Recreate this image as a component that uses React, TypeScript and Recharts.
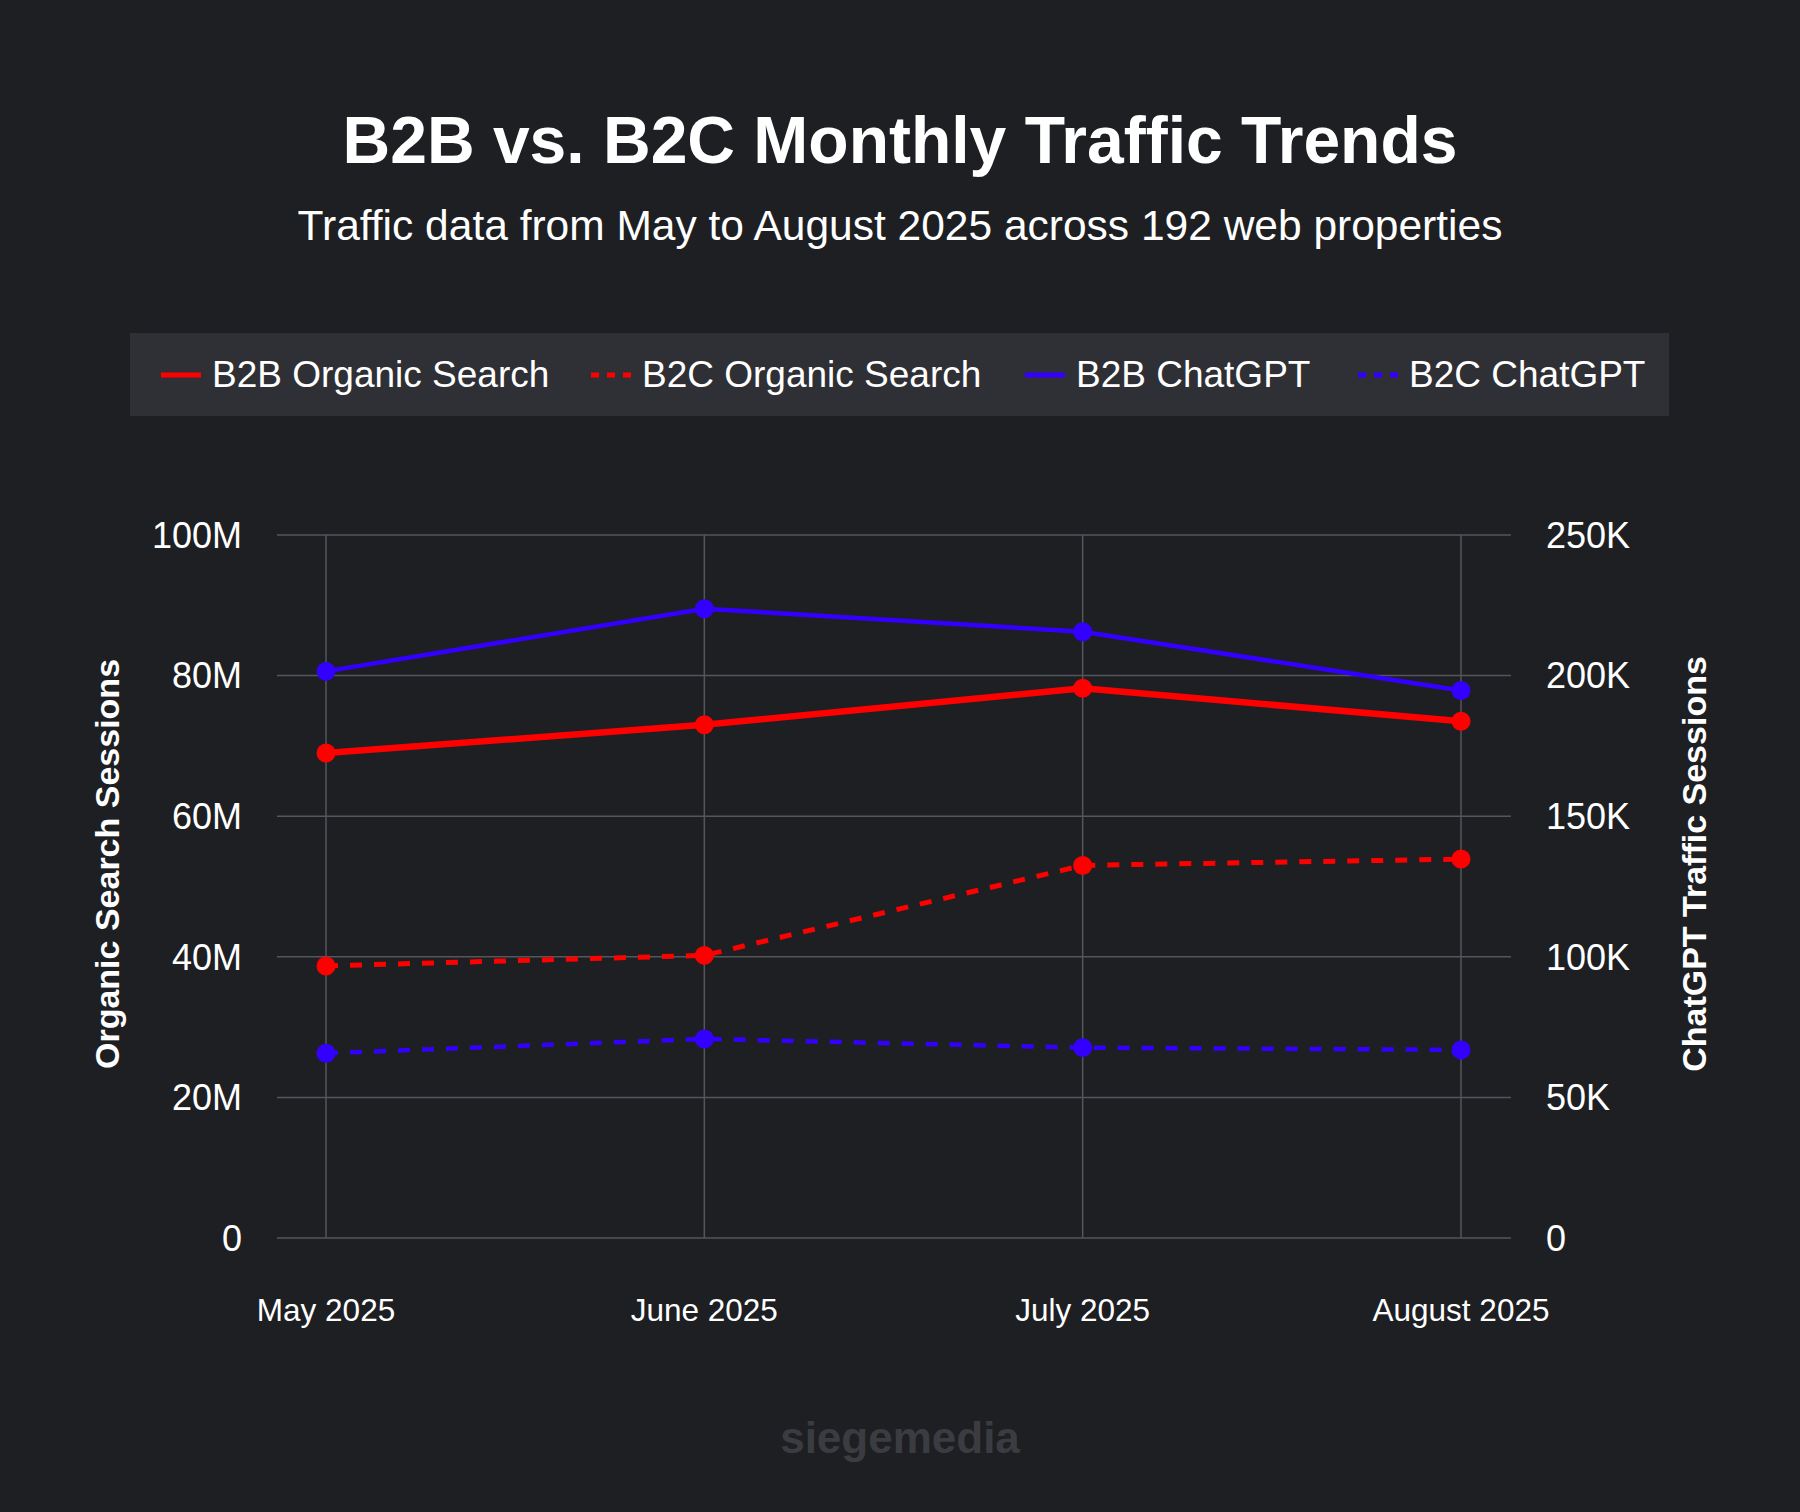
import React from 'react';
import { LineChart, Line, XAxis, YAxis, CartesianGrid } from 'recharts';

const months = ['May 2025', 'June 2025', 'July 2025', 'August 2025'];
// organic sessions, millions
const b2bOrganic = [69.0, 73.0, 78.2, 73.5];
const b2cOrganic = [38.7, 40.2, 53.0, 53.9];
// chatgpt sessions, thousands
const b2bChatgpt = [201.5, 223.8, 215.6, 194.7];
const b2cChatgpt = [65.7, 70.8, 67.7, 66.9];

const leftTicks = [0, 20, 40, 60, 80, 100];
const rightTicks = [0, 50, 100, 150, 200, 250];

const RED = '#ff0000';
const BLUE = '#3300ff';
const BG = '#1e1f23';
const FONT = '"Liberation Sans", Arial, sans-serif';

const data = months.map((m, i) => ({
  month: m,
  b2bOrganic: b2bOrganic[i],
  b2cOrganic: b2cOrganic[i],
  b2bChatgpt: b2bChatgpt[i],
  b2cChatgpt: b2cChatgpt[i],
}));

const legendItems = [
  { label: 'B2B Organic Search', color: RED, dashed: false, width: 5, left: 161 },
  { label: 'B2C Organic Search', color: RED, dashed: true, width: 5, left: 591 },
  { label: 'B2B ChatGPT', color: BLUE, dashed: false, width: 5, left: 1025 },
  { label: 'B2C ChatGPT', color: BLUE, dashed: true, width: 5, left: 1358 },
];

const tickStyle = { fill: '#ffffff', fontSize: 36, fontFamily: FONT };

export default function App() {
  return (
    <div
      style={{
        position: 'absolute',
        left: 0,
        top: 0,
        width: 1800,
        height: 1512,
        background: BG,
        fontFamily: FONT,
        color: '#fff',
        overflow: 'hidden',
      }}
    >
      <div style={{ position: 'absolute', top: 107, width: 1800, textAlign: 'center', fontSize: 66, fontWeight: 700, lineHeight: 1 }}>
        B2B vs. B2C Monthly Traffic Trends
      </div>
      <div style={{ position: 'absolute', top: 205, width: 1800, textAlign: 'center', fontSize: 42.5, lineHeight: 1 }}>
        Traffic data from May to August 2025 across 192 web properties
      </div>

      {/* legend */}
      <div style={{ position: 'absolute', left: 130, top: 333, width: 1539, height: 83, background: '#2f3035' }}>
        {legendItems.map((it) => (
          <div
            key={it.label}
            style={{ position: 'absolute', left: it.left - 130, top: 0, height: 83, display: 'flex', alignItems: 'center' }}
          >
            <svg width={40} height={10} style={{ marginRight: 11 }}>
              <line
                x1={0}
                y1={5}
                x2={40}
                y2={5}
                stroke={it.color}
                strokeWidth={it.width}
                strokeDasharray={it.dashed ? '8 8' : undefined}
              />
            </svg>
            <span style={{ fontSize: 37, lineHeight: 1, whiteSpace: 'nowrap' }}>{it.label}</span>
          </div>
        ))}
      </div>

      <LineChart
        width={1800}
        height={1512}
        data={data}
        margin={{ top: 535, right: 169, bottom: 194, left: 157 }}
        style={{ position: 'absolute', left: 0, top: 0 }}
      >
        <CartesianGrid stroke="#55565b" strokeWidth={1.5} syncWithTicks />
        <XAxis
          dataKey="month"
          axisLine={false}
          tickLine={false}
          height={80}
          padding={{ left: 49, right: 50 }}
          tickMargin={55}
          tick={{ fill: '#ffffff', fontSize: 31.5, fontFamily: FONT }}
        />
        <YAxis
          orientation="left"
          width={120}
          domain={[0, 100]}
          ticks={leftTicks}
          axisLine={false}
          tickLine={false}
          tickMargin={29}
          tickFormatter={(v: number) => (v === 0 ? '0' : `${v}M`)}
          tick={tickStyle}
        />
        <YAxis
          yAxisId="right"
          orientation="right"
          width={120}
          domain={[0, 250]}
          ticks={rightTicks}
          axisLine={false}
          tickLine={false}
          tickMargin={29}
          tickFormatter={(v: number) => (v === 0 ? '0' : `${v}K`)}
          tick={{ ...tickStyle, textAnchor: 'start' }}
        />
        <Line
          yAxisId="right"
          dataKey="b2cChatgpt"
          stroke={BLUE}
          strokeWidth={4.5}
          strokeDasharray="12 12"
          dot={{ r: 9.5, fill: BLUE, strokeWidth: 0 }}
          isAnimationActive={false}
        />
        <Line
          dataKey="b2cOrganic"
          stroke={RED}
          strokeWidth={5}
          strokeDasharray="12 12"
          dot={{ r: 9.5, fill: RED, strokeWidth: 0 }}
          isAnimationActive={false}
        />
        <Line
          yAxisId="right"
          dataKey="b2bChatgpt"
          stroke={BLUE}
          strokeWidth={4.5}
          dot={{ r: 9.5, fill: BLUE, strokeWidth: 0 }}
          isAnimationActive={false}
        />
        <Line
          dataKey="b2bOrganic"
          stroke={RED}
          strokeWidth={6.5}
          dot={{ r: 9.5, fill: RED, strokeWidth: 0 }}
          isAnimationActive={false}
        />
      </LineChart>

      <div
        style={{
          position: 'absolute',
          left: 107,
          top: 864,
          transform: 'translate(-50%, -50%) rotate(-90deg)',
          fontSize: 34,
          fontWeight: 700,
          whiteSpace: 'nowrap',
          lineHeight: 1,
        }}
      >
        Organic Search Sessions
      </div>
      <div
        style={{
          position: 'absolute',
          left: 1694,
          top: 864,
          transform: 'translate(-50%, -50%) rotate(-90deg)',
          fontSize: 34,
          fontWeight: 700,
          whiteSpace: 'nowrap',
          lineHeight: 1,
        }}
      >
        ChatGPT Traffic Sessions
      </div>

      <div
        style={{
          position: 'absolute',
          top: 1416,
          width: 1800,
          textAlign: 'center',
          fontSize: 44,
          fontWeight: 700,
          color: '#3b3c41',
          lineHeight: 1,
        }}
      >
        siegemedia
      </div>
    </div>
  );
}
